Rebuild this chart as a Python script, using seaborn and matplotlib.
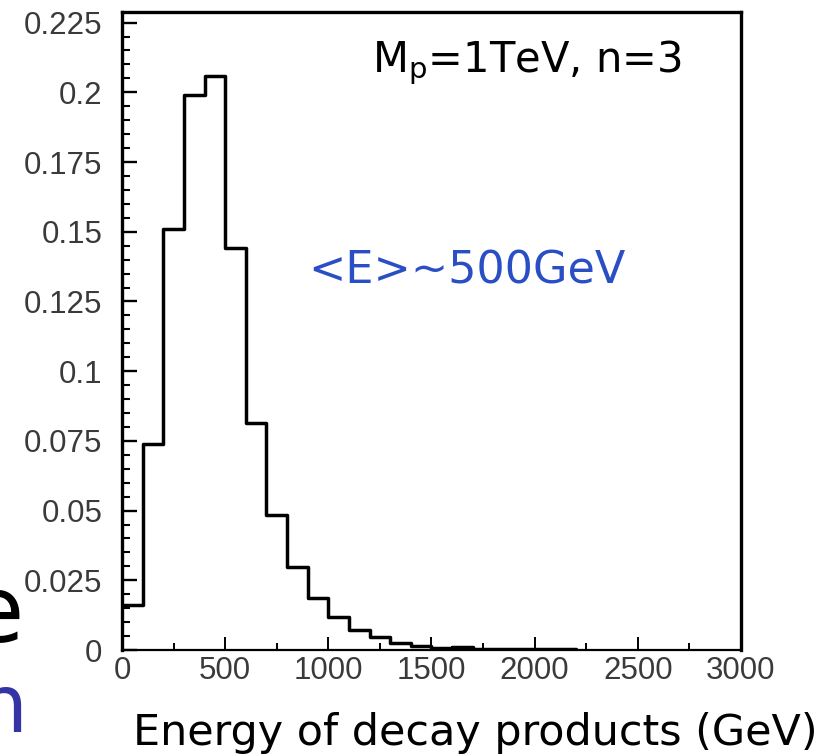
import numpy as np
import pandas as pd
import seaborn as sns
import matplotlib
matplotlib.use("Agg")
import matplotlib.pyplot as plt
from matplotlib.ticker import FixedLocator, MultipleLocator

# ---- data ----
bin_edges = [0, 100, 200, 300, 400, 500, 600, 700, 800, 900, 1000, 1100,
             1200, 1300, 1400, 1500, 1600, 1700, 1800, 1900, 2000, 2100, 2200]
bin_values = [0.016, 0.074, 0.151, 0.199, 0.206, 0.144, 0.0815, 0.0484,
              0.0299, 0.0188, 0.0117, 0.0072, 0.0048, 0.0026, 0.0015,
              0.0008, 0.0011, 0.0005, 0.0004, 0.0003, 0.0003, 0.0002]
x_ticks = [0, 500, 1000, 1500, 2000, 2500, 3000]
x_ticklabels = ["0", "500", "1000", "1500", "2000", "2500", "3000"]
y_ticks = [0, 0.025, 0.05, 0.075, 0.1, 0.125, 0.15, 0.175, 0.2, 0.225]
y_ticklabels = ["0", "0.025", "0.05", "0.075", "0.1", "0.125", "0.15",
                "0.175", "0.2", "0.225"]

centers = [(a + b) / 2 for a, b in zip(bin_edges[:-1], bin_edges[1:])]
df = pd.DataFrame({"energy": centers, "weight": bin_values})

sns.set_theme(style="white")
plt.rcParams["font.family"] = ["DejaVu Sans"]

W, H = 827, 755
fig = plt.figure(figsize=(W / 100, H / 100), dpi=100)
ax = fig.add_axes([122 / W, (H - 650) / H, (741 - 122) / W, (650 - 12) / H])

sns.histplot(data=df, x="energy", weights="weight", bins=bin_edges,
             element="step", fill=False, color="black", linewidth=2.5, ax=ax)

ax.set_xlim(0, 3000)
ax.set_ylim(0, 0.2288)
ax.set_xlabel("")
ax.set_ylabel("")

ax.xaxis.set_major_locator(FixedLocator(x_ticks))
ax.set_xticklabels(x_ticklabels)
ax.xaxis.set_minor_locator(MultipleLocator(250))
ax.yaxis.set_major_locator(FixedLocator(y_ticks))
ax.set_yticklabels(y_ticklabels)
ax.yaxis.set_minor_locator(MultipleLocator(0.005))

for lab in ax.get_xticklabels() + ax.get_yticklabels():
    lab.set_fontfamily("Liberation Sans")
    lab.set_fontsize(22.5)
    lab.set_color("#3a3a3a")

ax.tick_params(axis="y", which="major", direction="in", length=11, width=1.7,
               color="black", pad=14, left=True, right=False)
ax.tick_params(axis="y", which="minor", direction="in", length=6, width=1.5,
               color="black", left=True, right=False)
ax.tick_params(axis="x", which="major", direction="in", length=9.5, width=1.4,
               color="black", pad=4, bottom=True, top=False)
ax.tick_params(axis="x", which="minor", direction="in", length=5, width=1.4,
               color="black", bottom=True, top=False)

for side, lw in {"left": 2.4, "top": 2.4, "right": 2.4, "bottom": 1.6}.items():
    ax.spines[side].set_visible(True)
    ax.spines[side].set_color("black")
    ax.spines[side].set_linewidth(lw)

# annotations inside the plot
fig.text(372 / W, (H - 72) / H, r"M$_\mathregular{p}$=1TeV, n=3",
         fontsize=30, color="black", ha="left", va="baseline",
         family="DejaVu Sans")
fig.text(308 / W, (H - 283) / H, "<E>~500GeV", fontsize=32,
         color="#2a4fc4", ha="left", va="baseline", family="DejaVu Sans")

# x-axis title (slide text)
fig.text(133 / W, (H - 745) / H, "Energy of decay products (GeV)",
         fontsize=30.9, color="black", ha="left", va="baseline",
         family="DejaVu Sans")

# fragments of slide text cut off at the left edge
fig.text(24 / W, (H - 642) / H, "e", fontsize=66, color="black",
         ha="right", va="baseline", family="DejaVu Sans")
fig.text(28 / W, (H - 732) / H, "n", fontsize=58, color="#3434a6",
         ha="right", va="baseline", family="DejaVu Sans")

fig.savefig("out.png", dpi=100)
